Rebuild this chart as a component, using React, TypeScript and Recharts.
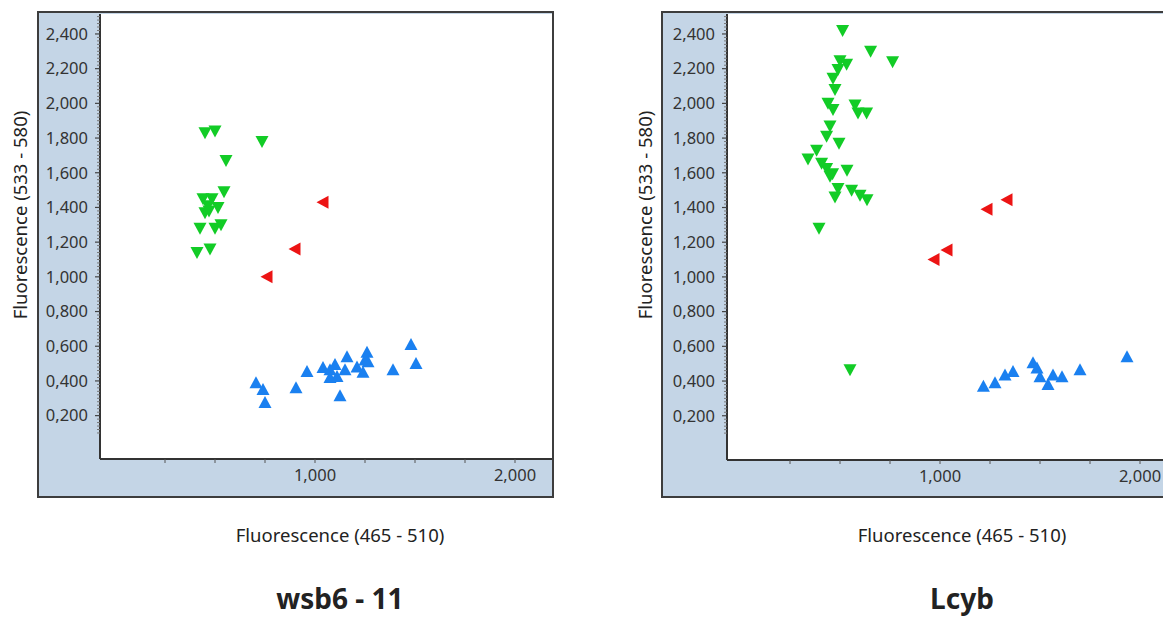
import React from "react";
import { ScatterChart, Scatter, XAxis, YAxis, CartesianGrid } from "recharts";

// axis ticks
const yTicks = [0.2, 0.4, 0.6, 0.8, 1.0, 1.2, 1.4, 1.6, 1.8, 2.0, 2.2, 2.4];
const yTickLabels = ["0,200", "0,400", "0,600", "0,800", "1,000", "1,200", "1,400", "1,600", "1,800", "2,000", "2,200", "2,400"];
const xTicks = [250, 500, 750, 1000, 1250, 1500, 1750, 2000];
const xTickLabels = ["", "", "", "1,000", "", "", "", "2,000"];
// small marks every 0.02 along the y axis
const yMinor = Array.from({ length: 121 }, (_, i) => +(0.1 + i * 0.02).toFixed(2));

// wsb6 - 11  [x, y]
const wsbGreen = [
  [450, 1.83], [500, 1.84], [735, 1.78], [555, 1.67], [545, 1.49], [440, 1.45],
  [485, 1.45], [465, 1.41], [515, 1.40], [450, 1.37], [470, 1.38], [425, 1.28],
  [500, 1.28], [530, 1.30], [410, 1.14], [475, 1.16],
];
const wsbRed = [[1040, 1.43], [900, 1.16], [760, 1.0]];
const wsbBlue = [
  [705, 0.39], [740, 0.35], [750, 0.275], [905, 0.36], [960, 0.455], [1040, 0.477],
  [1075, 0.465], [1100, 0.495], [1110, 0.425], [1160, 0.54], [1125, 0.315], [1210, 0.48],
  [1240, 0.45], [1260, 0.565], [1265, 0.51], [1390, 0.465], [1480, 0.61], [1505, 0.50],
  [1075, 0.42], [1150, 0.465], [1250, 0.52],
];

// Lcyb
const lcybGreen = [
  [513, 2.42], [653, 2.30], [763, 2.24], [500, 2.245], [533, 2.225], [490, 2.195],
  [465, 2.145], [475, 2.08], [440, 2.0], [465, 1.965], [575, 1.99], [590, 1.945],
  [633, 1.945], [450, 1.87], [433, 1.81], [495, 1.77], [383, 1.73], [340, 1.68],
  [408, 1.655], [433, 1.625], [463, 1.595], [535, 1.615], [450, 1.58], [490, 1.51],
  [475, 1.46], [558, 1.50], [600, 1.47], [635, 1.445], [395, 1.28], [550, 0.465],
];
const lcybRed = [[970, 1.10], [1035, 1.155], [1235, 1.39], [1335, 1.445]];
const lcybBlue = [
  [1217, 0.37], [1275, 0.39], [1325, 0.435], [1365, 0.455], [1465, 0.505], [1485, 0.475],
  [1500, 0.425], [1540, 0.38], [1565, 0.435], [1610, 0.425], [1700, 0.465], [1935, 0.54],
];

const GREEN = "#12cc26";
const RED = "#ec1414";
const BLUE = "#1a80f0";
const FONT = "'Noto Sans', sans-serif";

const toPts = (a: number[][]) => a.map(([x, y]) => ({ x, y }));

const down = (c: string) => (p: any) =>
  <path d={`M${p.cx - 6.5},${p.cy - 5.5} L${p.cx + 6.5},${p.cy - 5.5} L${p.cx},${p.cy + 6.5} Z`} fill={c} />;
const up = (c: string) => (p: any) =>
  <path d={`M${p.cx - 6.5},${p.cy + 5.5} L${p.cx + 6.5},${p.cy + 5.5} L${p.cx},${p.cy - 6.5} Z`} fill={c} />;
const left = (c: string) => (p: any) =>
  <path d={`M${p.cx + 5.5},${p.cy - 6.5} L${p.cx + 5.5},${p.cy + 6.5} L${p.cx - 6.5},${p.cy} Z`} fill={c} />;

const YTick = (props: any) => {
  const { x, y, payload } = props;
  const i = yTicks.findIndex((t) => Math.abs(t - payload.value) < 1e-6);
  if (i < 0) return <line x1={x - 3} x2={x} y1={y} y2={y} stroke="#777" strokeWidth={1} />;
  return (
    <g>
      <line x1={x - 5} x2={x} y1={y} y2={y} stroke="#444" strokeWidth={1.2} />
      <text x={x - 12} y={y} dy="0.35em" textAnchor="end" fontSize={16.5} fill="#333" fontFamily={FONT}>
        {yTickLabels[i]}
      </text>
    </g>
  );
};

interface PanelProps {
  boxLeft: number;
  yWidth: number;
  xHeight: number;
  xDomain: [number, number];
  yDomain: [number, number];
  green: number[][];
  red: number[][];
  blue: number[][];
  title: string;
  cx: number;
  yTitleX: number;
}

function Panel(p: PanelProps) {
  return (
    <>
      <div
        style={{
          position: "absolute", left: p.boxLeft, top: 11, width: 517, height: 487,
          boxSizing: "border-box", border: "2px solid #3d3d3d", background: "#c4d5e6",
        }}
      >
        <ScatterChart width={513} height={483} margin={{ top: 1, right: 0, bottom: 0, left: 0 }}>
          <CartesianGrid horizontal={false} vertical={false} fill="#ffffff" />
          <XAxis
            type="number" dataKey="x" domain={p.xDomain} allowDataOverflow
            ticks={xTicks} interval={0} height={p.xHeight}
            tickFormatter={(v: number) => xTickLabels[xTicks.indexOf(v)] ?? ""}
            tick={{ fontSize: 16.5, fill: "#333", fontFamily: FONT }}
            tickSize={4} tickMargin={6}
            tickLine={{ stroke: "#555" }}
            axisLine={{ stroke: "#333", strokeWidth: 2 }}
          />
          <YAxis
            type="number" dataKey="y" domain={p.yDomain} allowDataOverflow
            ticks={yMinor} interval={0} width={p.yWidth}
            tick={<YTick />} tickSize={0} tickMargin={0} tickLine={false}
            axisLine={{ stroke: "#333", strokeWidth: 2 }}
          />
          <Scatter data={toPts(p.green)} shape={down(GREEN)} isAnimationActive={false} />
          <Scatter data={toPts(p.red)} shape={left(RED)} isAnimationActive={false} />
          <Scatter data={toPts(p.blue)} shape={up(BLUE)} isAnimationActive={false} />
        </ScatterChart>
      </div>
      <div
        style={{
          position: "absolute", left: p.yTitleX - 150, top: 203, width: 300, height: 24,
          lineHeight: "24px", textAlign: "center", fontSize: 18.5, color: "#222",
          transform: "rotate(-90deg)",
        }}
      >
        Fluorescence (533 - 580)
      </div>
      <div
        style={{
          position: "absolute", left: p.cx - 150, top: 523, width: 300, height: 24,
          lineHeight: "24px", textAlign: "center", fontSize: 18.5, color: "#222",
        }}
      >
        Fluorescence (465 - 510)
      </div>
      <div
        style={{
          position: "absolute", left: p.cx - 150, top: 579, width: 300, height: 38,
          lineHeight: "38px", textAlign: "center", fontSize: 28, fontWeight: 700, color: "#222",
        }}
      >
        {p.title}
      </div>
    </>
  );
}

export default function App() {
  return (
    <div
      style={{
        position: "absolute", left: 0, top: 0, width: 1163, height: 617,
        overflow: "hidden", background: "#fff", fontFamily: FONT,
      }}
    >
      <Panel
        boxLeft={37} yWidth={61} xHeight={37}
        xDomain={[-75, 2185]} yDomain={[-0.05, 2.515]}
        green={wsbGreen} red={wsbRed} blue={wsbBlue}
        title="wsb6 - 11" cx={340} yTitleX={20}
      />
      <Panel
        boxLeft={661} yWidth={64} xHeight={36}
        xDomain={[-65, 2180]} yDomain={[-0.055, 2.515]}
        green={lcybGreen} red={lcybRed} blue={lcybBlue}
        title="Lcyb" cx={962} yTitleX={645}
      />
    </div>
  );
}
